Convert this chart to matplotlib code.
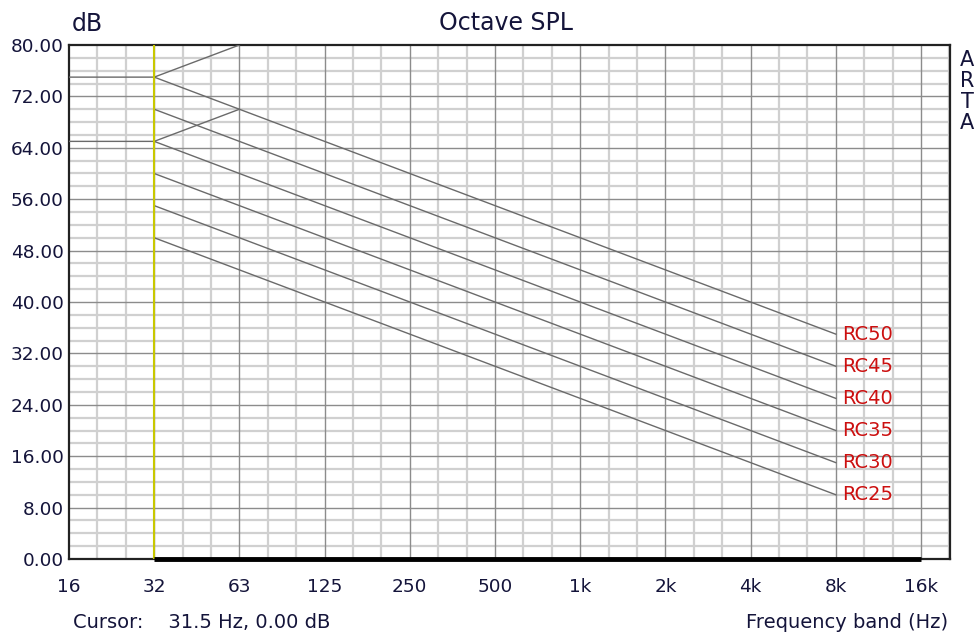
import matplotlib
matplotlib.use("Agg")
import matplotlib.pyplot as plt
import numpy as np

plt.rcParams['font.family'] = ['DejaVu Sans']

# Octave band labels (x axis)
bands = ['16', '32', '63', '125', '250', '500', '1k', '2k', '4k', '8k', '16k']

# RC curves: values at bands 31.5 Hz .. 8 kHz (band index 1..9)
rc_names = ['RC50', 'RC45', 'RC40', 'RC35', 'RC30', 'RC25']
rc50 = [75, 70, 65, 60, 55, 50, 45, 40, 35]
rc45 = [70, 65, 60, 55, 50, 45, 40, 35, 30]
rc40 = [65, 60, 55, 50, 45, 40, 35, 30, 25]
rc35 = [60, 55, 50, 45, 40, 35, 30, 25, 20]
rc30 = [55, 50, 45, 40, 35, 30, 25, 20, 15]
rc25 = [50, 45, 40, 35, 30, 25, 20, 15, 10]
rc_values = [rc50, rc45, rc40, rc35, rc30, rc25]
rc_band_idx = list(range(1, 10))

# Low-frequency boundary lines (16, 31.5, 63 Hz)
bound_idx = [0, 1, 2]
bound_upper = [75, 75, 80]
bound_lower = [65, 65, 70]

# Measured SPL curve (flat 0 dB from 31.5 Hz to 16 kHz)
spl_idx = list(range(1, 11))
spl_vals = [0, 0, 0, 0, 0, 0, 0, 0, 0, 0]

cursor_band = 1

yticks = [0, 8, 16, 24, 32, 40, 48, 56, 64, 72, 80]

W, H = 976, 633
fig = plt.figure(figsize=(W / 100, H / 100), dpi=100)
L, R, T, B = 69, 950, 45, 559
ax = fig.add_axes([L / W, 1 - B / H, (R - L) / W, (B - T) / H])

xmax = 10 + 29 / 85.2
ax.set_xlim(0, xmax)
ax.set_ylim(0, 80)

# grid
for y in np.arange(2, 80, 2):
    major = (y % 8 == 0)
    ax.axhline(y, color='#8c8c8c' if major else '#d0d0d0', lw=1.0 if major else 1.6,
               zorder=1 if major else 0.5)
for i in range(0, 11):
    for k in range(3):
        x = i + k / 3
        if x <= 0 or x >= xmax:
            continue
        major = (k == 0)
        ax.axvline(x, color='#8c8c8c' if major else '#d0d0d0', lw=1.0 if major else 1.6,
                   zorder=1 if major else 0.5)

line_col = '#6a6a6a'
for vals in rc_values:
    ax.plot(rc_band_idx, vals, color=line_col, lw=1.0, zorder=3)
ax.plot(bound_idx, bound_upper, color=line_col, lw=1.0, zorder=3)
ax.plot(bound_idx, bound_lower, color=line_col, lw=1.0, zorder=3)

for name, vals in zip(rc_names, rc_values):
    ax.text(rc_band_idx[-1] + 0.08, vals[-1], name, color='#cc1010', fontsize=14,
            ha='left', va='center', zorder=4)

ax.axvline(cursor_band, color='#c8c800', lw=1.5, zorder=4)
ax.plot(spl_idx, spl_vals, color='black', lw=3.5, zorder=5, clip_on=False,
        solid_capstyle='butt')

tc = '#14143a'
ax.set_xticks(range(len(bands)))
ax.set_xticklabels(bands)
ax.set_yticks(yticks)
ax.set_yticklabels([f'{v:.2f}' for v in yticks])
ax.tick_params(length=0, labelsize=13.3, colors=tc)
ax.tick_params(axis='x', pad=14)
ax.tick_params(axis='y', pad=4)

for s in ax.spines.values():
    s.set_color('#222222')
    s.set_linewidth(1.6)

fig.text(72 / W, 1 - 24 / H, 'dB', fontsize=17, color=tc, ha='left', va='center')
fig.text(506 / W, 1 - 23 / H, 'Octave SPL', fontsize=17, color=tc, ha='center', va='center')
for i, ch in enumerate('ARTA'):
    fig.text(967 / W, 1 - (59.5 + 21.3 * i) / H, ch, fontsize=15, color=tc,
             ha='center', va='center')
fig.text(73 / W, 1 - 622 / H, 'Cursor:    31.5 Hz, 0.00 dB', fontsize=14, color=tc,
         ha='left', va='center')
fig.text(948 / W, 1 - 622 / H, 'Frequency band (Hz)', fontsize=14, color=tc,
         ha='right', va='center')

fig.savefig('out.png', dpi=100, facecolor='white')
